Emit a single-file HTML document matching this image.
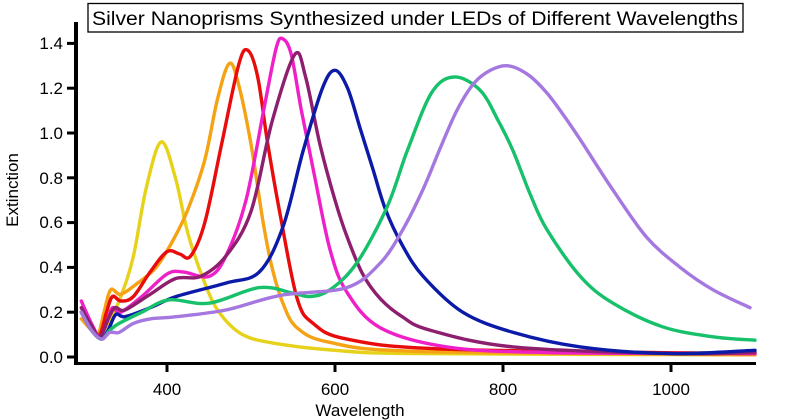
<!DOCTYPE html>
<html><head><meta charset="utf-8"><style>
html,body{margin:0;padding:0;background:#fff;}
svg{display:block;font-family:"Liberation Sans",Arial,sans-serif;}
</style></head><body>
<svg id="s" width="800" height="420" viewBox="0 0 800 420" xmlns="http://www.w3.org/2000/svg">
<rect width="800" height="420" fill="#fff"/>
<rect x="88" y="3.5" width="655" height="28.5" fill="#fff" stroke="#000" stroke-width="1.3"/>
<text x="92" y="25" font-size="19" textLength="646" lengthAdjust="spacingAndGlyphs">Silver Nanoprisms Synthesized under LEDs of Different Wavelengths</text>
<g id="curves" fill="none" stroke-width="3.4" stroke-linejoin="round" stroke-linecap="round"></g>
<line x1="76" y1="22" x2="76" y2="365" stroke="#000" stroke-width="4"/>
<line x1="74" y1="363.5" x2="756" y2="363.5" stroke="#000" stroke-width="3"/>
<g stroke="#000" stroke-width="3">
<line x1="67" y1="357" x2="76" y2="357"/><line x1="67" y1="312.2" x2="76" y2="312.2"/>
<line x1="67" y1="267.4" x2="76" y2="267.4"/><line x1="67" y1="222.6" x2="76" y2="222.6"/>
<line x1="67" y1="177.8" x2="76" y2="177.8"/><line x1="67" y1="133" x2="76" y2="133"/>
<line x1="67" y1="88.2" x2="76" y2="88.2"/><line x1="67" y1="43.4" x2="76" y2="43.4"/>
<line x1="167" y1="363" x2="167" y2="372"/><line x1="335" y1="363" x2="335" y2="372"/>
<line x1="503" y1="363" x2="503" y2="372"/><line x1="671" y1="363" x2="671" y2="372"/>
</g>
<g font-size="17" text-anchor="end">
<text x="63" y="363">0.0</text><text x="63" y="318">0.2</text><text x="63" y="273">0.4</text>
<text x="63" y="228">0.6</text><text x="63" y="184">0.8</text><text x="63" y="139">1.0</text>
<text x="63" y="94">1.2</text><text x="63" y="49">1.4</text>
</g>
<g font-size="17" text-anchor="middle">
<text x="167" y="395">400</text><text x="335" y="395">600</text><text x="503" y="395">800</text><text x="671" y="395">1000</text>
<text x="360" y="416">Wavelength</text>
<text transform="translate(18,190) rotate(-90)">Extinction</text>
</g>
</svg>
<script>
var X=function(l){return 167+(l-400)*0.84;},Y=function(v){return 357-224*v;};
var C=[
["#e6d21a",[[298,0.2],[310,0.13],[318,0.1],[330,0.15],[345,0.27],[360,0.45],[375,0.75],[393,0.96],[410,0.8],[425,0.55],[445,0.33],[462,0.2],[490,0.1],[530,0.06],[600,0.03],[700,0.015],[1100,0.01]]],
["#f5a214",[[298,0.17],[310,0.12],[318,0.1],[325,0.2],[333,0.3],[345,0.28],[365,0.33],[387,0.4],[407,0.52],[425,0.66],[445,0.88],[460,1.15],[474,1.31],[485,1.22],[500,0.95],[514,0.61],[525,0.4],[538,0.24],[555,0.13],[594,0.065],[700,0.025],[1100,0.01]]],
["#e80c0c",[[298,0.2],[310,0.12],[320,0.1],[328,0.2],[335,0.27],[345,0.25],[360,0.27],[380,0.38],[400,0.47],[415,0.46],[428,0.45],[445,0.6],[465,0.95],[485,1.3],[496,1.37],[508,1.25],[520,0.95],[535,0.63],[555,0.26],[574,0.15],[614,0.08],[733,0.035],[1100,0.015]]],
["#f020c8",[[298,0.25],[310,0.15],[320,0.09],[328,0.15],[335,0.22],[345,0.2],[370,0.27],[400,0.37],[419,0.38],[450,0.36],[470,0.45],[494,0.7],[515,1.1],[530,1.38],[538,1.42],[548,1.35],[560,1.1],[575,0.82],[594,0.48],[614,0.29],[654,0.13],[733,0.045],[852,0.02],[1100,0.015]]],
["#8e1f6e",[[298,0.22],[310,0.14],[320,0.09],[330,0.17],[338,0.22],[350,0.21],[380,0.28],[410,0.35],[440,0.36],[470,0.45],[500,0.65],[525,1.05],[552,1.35],[565,1.25],[582,0.95],[600,0.7],[614,0.54],[633,0.37],[654,0.26],[680,0.18],[713,0.12],[812,0.045],[1000,0.015],[1100,0.02]]],
["#0c1aa8",[[298,0.2],[310,0.12],[322,0.08],[330,0.12],[339,0.19],[350,0.18],[380,0.22],[411,0.27],[470,0.33],[510,0.38],[538,0.58],[562,0.92],[585,1.2],[600,1.28],[615,1.2],[630,1.02],[645,0.84],[660,0.66],[680,0.5],[705,0.36],[752,0.2],[812,0.11],[892,0.045],[1000,0.015],[1100,0.03]]],
["#17c06a",[[298,0.2],[310,0.12],[322,0.08],[332,0.12],[343,0.15],[370,0.2],[402,0.255],[450,0.24],[510,0.31],[550,0.285],[570,0.27],[594,0.3],[626,0.42],[662,0.67],[686,0.92],[715,1.18],[742,1.25],[773,1.19],[795,1.05],[812,0.92],[832,0.73],[852,0.57],[892,0.36],[931,0.24],[990,0.135],[1050,0.09],[1100,0.075]]],
["#a578e0",[[298,0.2],[310,0.12],[322,0.08],[332,0.11],[343,0.11],[360,0.15],[380,0.17],[411,0.18],[470,0.21],[535,0.275],[614,0.31],[654,0.42],[681,0.57],[705,0.75],[725,0.93],[745,1.1],[765,1.22],[785,1.28],[806,1.3],[830,1.26],[852,1.18],[872,1.08],[892,0.97],[931,0.745],[971,0.535],[1011,0.4],[1050,0.3],[1094,0.22]]]
];
var g=document.getElementById("curves"),ns="http://www.w3.org/2000/svg";
C.forEach(function(c){
 var p=c[1].map(function(q){return [X(q[0]),Y(q[1])];});
 var d="M"+p[0][0].toFixed(1)+","+p[0][1].toFixed(1);
 for(var i=0;i<p.length-1;i++){
  var p0=p[i-1]||p[i],p1=p[i],p2=p[i+1],p3=p[i+2]||p2;
  var c1=[p1[0]+(p2[0]-p0[0])/6,p1[1]+(p2[1]-p0[1])/6],c2=[p2[0]-(p3[0]-p1[0])/6,p2[1]-(p3[1]-p1[1])/6];
  d+="C"+c1[0].toFixed(1)+","+c1[1].toFixed(1)+" "+c2[0].toFixed(1)+","+c2[1].toFixed(1)+" "+p2[0].toFixed(1)+","+p2[1].toFixed(1);
 }
 var e=document.createElementNS(ns,"path");e.setAttribute("d",d);e.setAttribute("stroke",c[0]);g.appendChild(e);
});
</script>
</body></html>
